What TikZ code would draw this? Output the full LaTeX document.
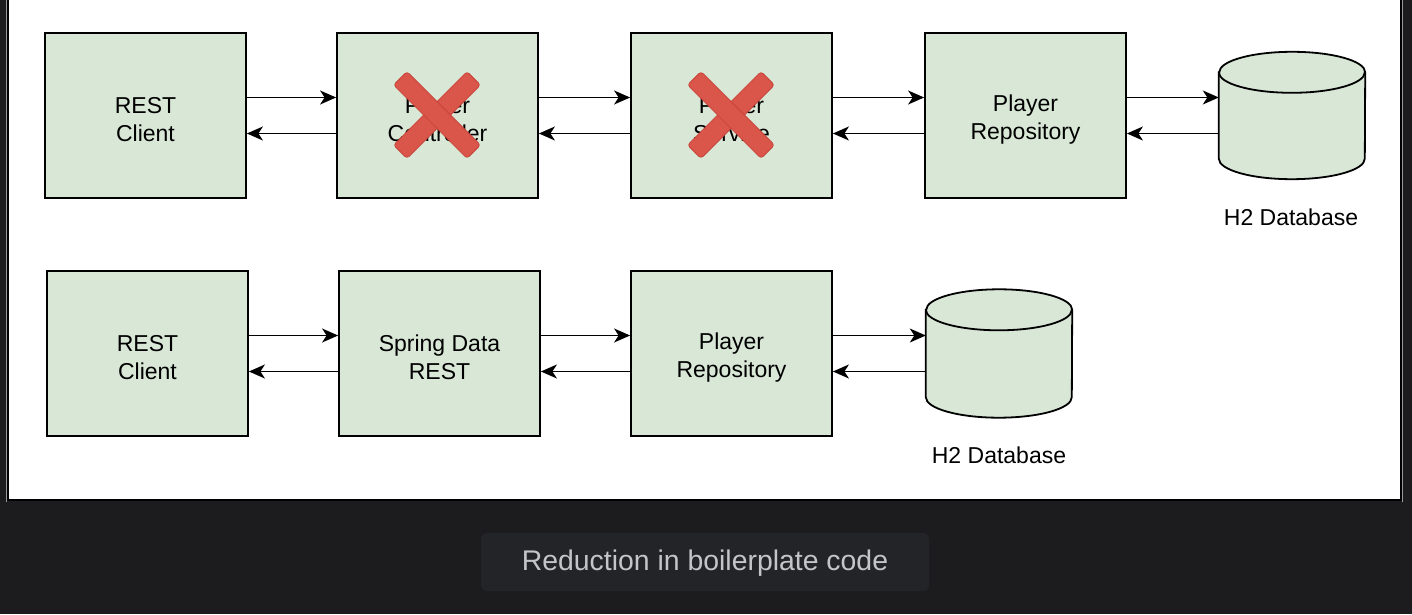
\documentclass[tikz,border=0pt]{standalone}
\usepackage{fontspec}
\setmainfont{Liberation Sans}
\usetikzlibrary{arrows.meta,calc}
\definecolor{bgdark}{HTML}{1C1C1E}
\definecolor{capbox}{HTML}{232428}
\definecolor{captext}{HTML}{C4C5C7}
\definecolor{boxfill}{HTML}{D8E7D6}
\definecolor{xred}{HTML}{DB564A}
\definecolor{xredline}{HTML}{C8443A}
\definecolor{panelgray}{HTML}{9A9A9C}
\tikzset{
  stepbox/.style={draw=black,line width=1.8pt,fill=boxfill,minimum width=201pt,minimum height=165pt,inner sep=0pt,align=center,font=\fontsize{23}{28}\selectfont,text=black},
  dbbox/.style={minimum width=146pt,minimum height=127pt,inner sep=0pt},
  cylline/.style={draw=black,line width=1.8pt,fill=boxfill},
  arr/.style={line width=1.5pt,-{Stealth[length=16pt,width=14pt,inset=4.5pt]}},
  xbar/.style={fill=xred,draw=xredline,line width=0.8pt,minimum width=104pt,minimum height=19pt,inner sep=0pt,rounded corners=3pt},
  dblabel/.style={font=\fontsize{23}{28}\selectfont,text=black,inner sep=0pt},
}
\newcommand{\mycyl}[1]{%
  \path[cylline] ($(#1.north west)+(0,-20.5)$) -- ($(#1.south west)+(0,20.5)$)
     arc[start angle=180,end angle=360,x radius=73pt,y radius=20.5pt]
     -- ($(#1.north east)+(0,-20.5)$)
     arc[start angle=0,end angle=180,x radius=73pt,y radius=20.5pt] -- cycle;
  \draw[line width=1.8pt] ($(#1.north west)+(0,-20.5)$)
     arc[start angle=180,end angle=360,x radius=73pt,y radius=20.5pt];
}
\newcommand{\tstrut}{\rule{0pt}{24pt}}
\begin{document}
\begin{tikzpicture}[x=1pt,y=1pt]
\useasboundingbox (0,0) rectangle (1412,614);
\fill[bgdark] (0,0) rectangle (1412,614);
% panel
\fill[white] (9,114) rectangle (1400,614);
\draw[panelgray,line width=1pt] (6.5,112) -- (6.5,614);
\draw[panelgray,line width=1pt] (1402.5,112) -- (1402.5,614);
\draw[black,line width=2pt] (8,614) -- (8,114) -- (1401,114) -- (1401,614);
% top row
\node[stepbox] (rc1) at (145.5,498.5) {\tstrut REST\\Client};
\node[stepbox] (pc1) at (437.5,498.5) {\tstrut Player\\Controller};
\node[stepbox] (ps1) at (731.5,498.5) {\tstrut Player\\Service};
\node[stepbox] (pr1) at (1025.5,498.5) {\tstrut Player\\Repository};
\node[dbbox] (db1) at (1292,498.5) {};
\mycyl{db1}
\node[dblabel] (db1lbl) at (1291,397) {H2 Database};
% red crosses
\node[xbar,rotate=45] (x1a) at (437,499) {};
\node[xbar,rotate=-45] (x1b) at (437,499) {};
\node[xbar,rotate=45] (x2a) at (731,499) {};
\node[xbar,rotate=-45] (x2b) at (731,499) {};
% top arrows
\foreach \a/\b in {rc1/pc1,pc1/ps1,ps1/pr1,pr1/db1}{
  \draw[arr] ([yshift=18pt]\a.east) -- ([yshift=18pt]\b.west);
  \draw[arr] ([yshift=-18pt]\b.west) -- ([yshift=-18pt]\a.east);
}
% bottom row
\node[stepbox] (rc2) at (147.5,260.5) {\tstrut REST\\Client};
\node[stepbox] (sd2) at (439.5,260.5) {\tstrut Spring Data\\REST};
\node[stepbox] (pr2) at (731.5,260.5) {\tstrut Player\\Repository};
\node[dbbox,minimum height=128pt] (db2) at (999,260.5) {};
\mycyl{db2}
\node[dblabel] (db2lbl) at (999,159) {H2 Database};
\foreach \a/\b in {rc2/sd2,sd2/pr2,pr2/db2}{
  \draw[arr] ([yshift=18pt]\a.east) -- ([yshift=18pt]\b.west);
  \draw[arr] ([yshift=-18pt]\b.west) -- ([yshift=-18pt]\a.east);
}
% caption
\node[fill=capbox,rounded corners=6pt,minimum width=448pt,minimum height=58pt,inner sep=0pt,text=captext,font=\fontsize{28.4}{32}\selectfont,text depth=3pt] (cap) at (705,52) {Reduction in boilerplate code};
\end{tikzpicture}
\end{document}
